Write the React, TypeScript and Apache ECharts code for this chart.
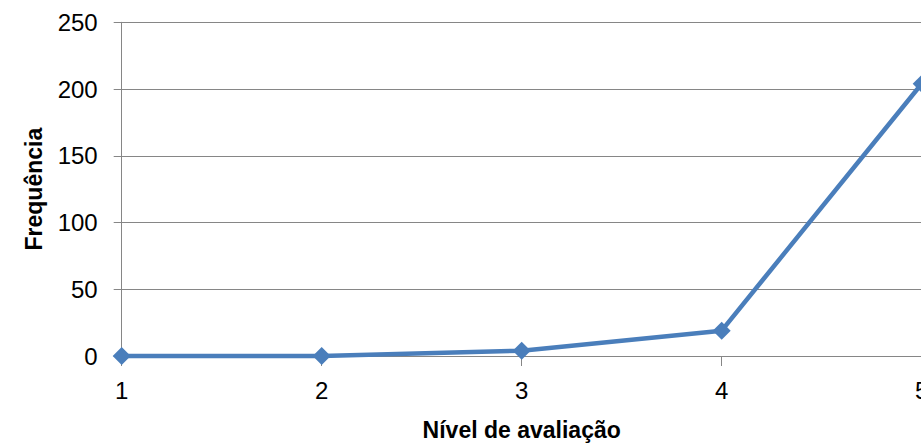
import React, { useEffect, useRef } from "react";
import * as echarts from "echarts";

const categories = ["1", "2", "3", "4", "5"];
const frequencies = [0, 0, 4, 19, 204];
const yMin = 0;
const yMax = 250;
const yStep = 50;
const xTitle = "Nível de avaliação";
const yTitle = "Frequência";

export default function App() {
  const ref = useRef<HTMLDivElement>(null);
  useEffect(() => {
    if (!ref.current) return;
    const chart = echarts.init(ref.current, null, { renderer: "svg" });
    const gray = "#868686";
    chart.setOption({
      animation: false,
      backgroundColor: "#ffffff",
      grid: {
        left: 121.7,
        right: -0.7,
        top: 22.3,
        bottom: 89,
        containLabel: false,
        outerBoundsMode: "none",
      },
      xAxis: {
        type: "category",
        data: categories,
        boundaryGap: false,
        axisLine: { show: true, lineStyle: { color: gray, width: 1 } },
        axisTick: { show: true, alignWithLabel: true, length: 10, lineStyle: { color: gray } },
        axisLabel: { color: "#000", fontFamily: "Liberation Sans", fontSize: 24, margin: 22 },
        splitLine: { show: false },
        name: xTitle,
        nameLocation: "middle",
        nameGap: 62,
        nameTextStyle: { color: "#000", fontFamily: "Liberation Sans", fontWeight: "bold", fontSize: 23 },
      },
      yAxis: {
        type: "value",
        min: yMin,
        max: yMax,
        interval: yStep,
        axisLine: { show: true, lineStyle: { color: gray, width: 1 } },
        axisTick: { show: true, length: 8, lineStyle: { color: gray } },
        axisLabel: { color: "#000", fontFamily: "Liberation Sans", fontSize: 24, margin: 24 },
        splitLine: { show: true, lineStyle: { color: gray, width: 1 } },
        name: yTitle,
        nameLocation: "middle",
        nameGap: 76,
        nameRotate: 90,
        nameTextStyle: { color: "#000", fontFamily: "Liberation Sans", fontWeight: "bold", fontSize: 23 },
      },
      series: [
        {
          type: "line",
          data: frequencies,
          symbol: "diamond",
          symbolSize: 18,
          lineStyle: { color: "#4a7ebb", width: 4.5 },
          itemStyle: { color: "#4a7ebb" },
          clip: false,
        },
      ],
    });
    return () => chart.dispose();
  }, []);
  return (
    <div
      ref={ref}
      style={{ position: "absolute", left: 0, top: 0, width: 921, height: 445, overflow: "hidden" }}
    />
  );
}
